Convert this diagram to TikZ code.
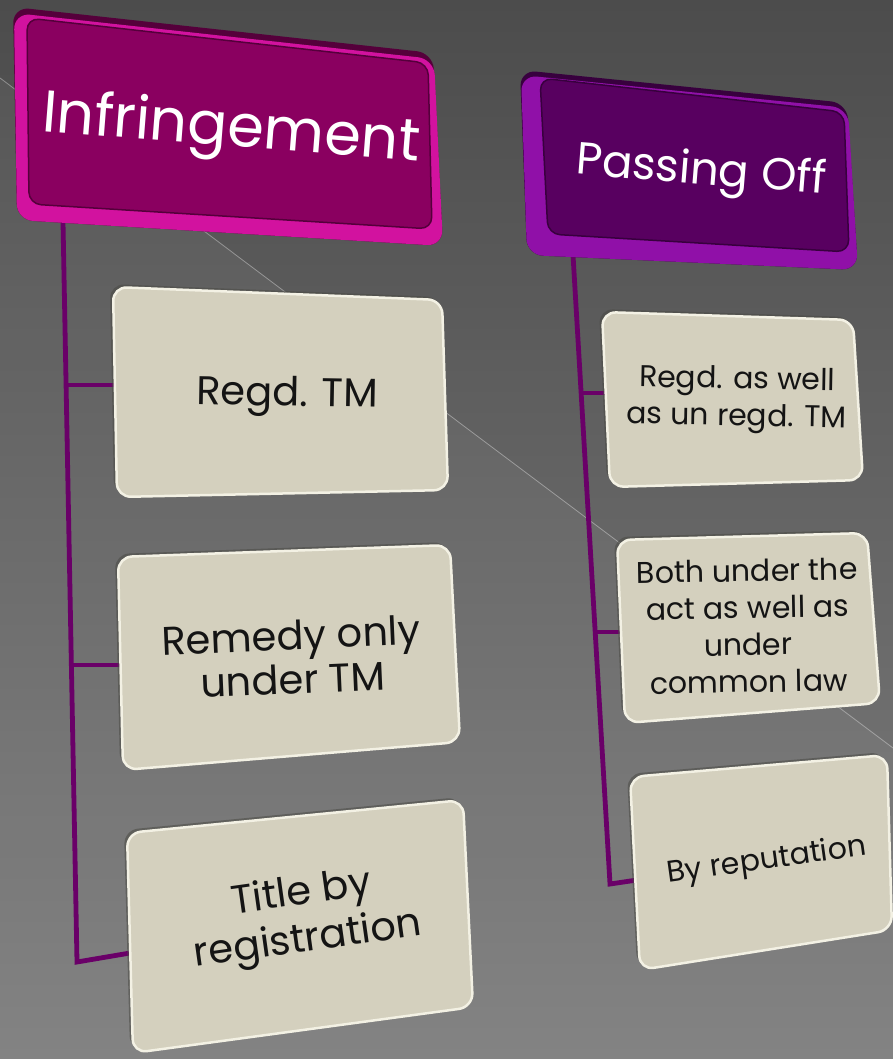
\documentclass[tikz,border=0pt]{standalone}
\usepackage{fontspec}
\setmainfont{Poppins}
\definecolor{bgtop}{HTML}{4C4C4C}
\definecolor{bgbot}{HTML}{7E7E7E}
\definecolor{magrim}{HTML}{D2129F}
\definecolor{magface}{HTML}{8A0060}
\definecolor{magdark}{HTML}{55003B}
\definecolor{purrim}{HTML}{9010A8}
\definecolor{purface}{HTML}{580060}
\definecolor{purdark}{HTML}{38003E}
\definecolor{beige}{HTML}{D4D0BE}
\definecolor{beigeedge}{HTML}{F3F1E4}
\definecolor{beigeshadow}{HTML}{4A4A44}
\definecolor{conn}{HTML}{6A0068}
\tikzset{
  conline/.style={draw=conn, line width=4.8pt, line join=miter},
  itembox/.style={fill=beige, draw=beigeedge, line width=2.5pt, rounded corners=14pt},
  itemshadow/.style={fill=beigeshadow, opacity=0.55, rounded corners=14pt},
  itemtext/.style={text=black!92, align=center, inner sep=0pt, font=\fontsize{40}{44}\selectfont},
  smalltext/.style={itemtext, font=\fontsize{30}{37}\selectfont},
  headtext/.style={text=white, inner sep=0pt, anchor=base},
  rimdark/.style={rounded corners=16pt},
}
\begin{document}
\begin{tikzpicture}[x=1pt,y=-1pt]
\useasboundingbox (0,0) rectangle (893,1059);
% background
\shade[top color=bgtop, bottom color=bgbot] (0,0) rectangle (893,1059);
\fill[white, opacity=0.045] (0,78) -- (893,748) -- (893,1059) -- (0,1059) -- cycle;
\draw[white, opacity=0.35, line width=0.8pt] (0,78) -- (893,748);

% connectors
\coordinate (ltop) at (63,222);
\coordinate (lbend) at (77,962);
\coordinate (lt1) at (66,385);
\coordinate (lt2) at (71,665);
\coordinate (l1w) at (116,385);
\coordinate (l2w) at (121,665);
\coordinate (l3w) at (130,953);
\coordinate (rtop) at (573,255);
\coordinate (rbend) at (610,884);
\coordinate (rt1) at (581,393);
\coordinate (rt2) at (595,632);
\coordinate (r1w) at (606,393);
\coordinate (r2w) at (622,632);
\coordinate (r3w) at (637,880);
\draw[conline] (ltop) -- (lbend) -- (l3w);
\draw[conline] (lt1) -- (l1w);
\draw[conline] (lt2) -- (l2w);
\draw[conline] (rtop) -- (rbend) -- (r3w);
\draw[conline] (rt1) -- (r1w);
\draw[conline] (rt2) -- (r2w);

% header: Infringement
\fill[magdark, rimdark] (13,7) -- (433,53) -- (443,246) -- (17,220) -- cycle;
\fill[magrim, rimdark] (14,13) -- (434,59) -- (443,246) -- (17,220) -- cycle;
\fill[magface, draw=magdark, line width=1.5pt, rounded corners=12pt] (27,18) -- (428,63) -- (432,229) -- (29,204) -- cycle;
\node[headtext, rotate=-4.5, font=\fontsize{59}{60}\selectfont] (inf) at (230,146) {Infringement};

% header: Passing Off
\fill[purdark, rimdark] (520,70) -- (847,103) -- (858,270) -- (527,255) -- cycle;
\fill[purrim, rimdark] (521,75) -- (848,108) -- (858,270) -- (527,255) -- cycle;
\fill[purface, draw=purdark, line width=1.5pt, rounded corners=12pt] (540,78) -- (844,112) -- (849,252) -- (548,234) -- cycle;
\node[headtext, rotate=-4.6, font=\fontsize{45}{48}\selectfont] (pass) at (700,184) {Passing Off};

% left items
\fill[itemshadow] (110,284) -- (440,297) -- (446,487) -- (114,494) -- cycle;
\draw[itembox] (113,287) -- (442,300) -- (448,490) -- (117,497) -- cycle;
\node[itemtext, anchor=base, rotate=-1] (l1) at (287,406) {Regd. TM};

\fill[itemshadow] (115,554) -- (448,542) -- (458,739) -- (120,767) -- cycle;
\draw[itembox] (118,557) -- (450,545) -- (460,742) -- (123,770) -- cycle;
\node[itemtext, rotate=2.5] (l2) at (292,657) {Remedy only\\under TM};

\fill[itemshadow] (124,830) -- (461,797) -- (471,1004) -- (130,1050) -- cycle;
\draw[itembox] (127,833) -- (463,800) -- (473,1007) -- (133,1053) -- cycle;
\node[itemtext, rotate=8, font=\fontsize{40}{47}\selectfont] (l3) at (305,918) {Title by\\registration};

% right items
\fill[itemshadow] (599,309) -- (851,317) -- (861,477) -- (607,484) -- cycle;
\draw[itembox] (602,312) -- (853,320) -- (863,480) -- (610,487) -- cycle;
\node[smalltext, rotate=-1] (r1) at (737,400) {Regd. as well\\as un regd. TM};

\fill[itemshadow] (614,537) -- (865,530) -- (878,700) -- (622,720) -- cycle;
\draw[itembox] (617,540) -- (867,533) -- (880,703) -- (625,723) -- cycle;
\node[smalltext, rotate=1] (r2) at (748,626) {Both under the\\act as well as\\under\\common law};

\fill[itemshadow] (627,774) -- (885,752) -- (890,927) -- (637,967) -- cycle;
\draw[itembox] (630,777) -- (887,755) -- (892,930) -- (640,970) -- cycle;
\node[smalltext, anchor=base, rotate=8] (r3) at (768,869) {By reputation};
\end{tikzpicture}
\end{document}
